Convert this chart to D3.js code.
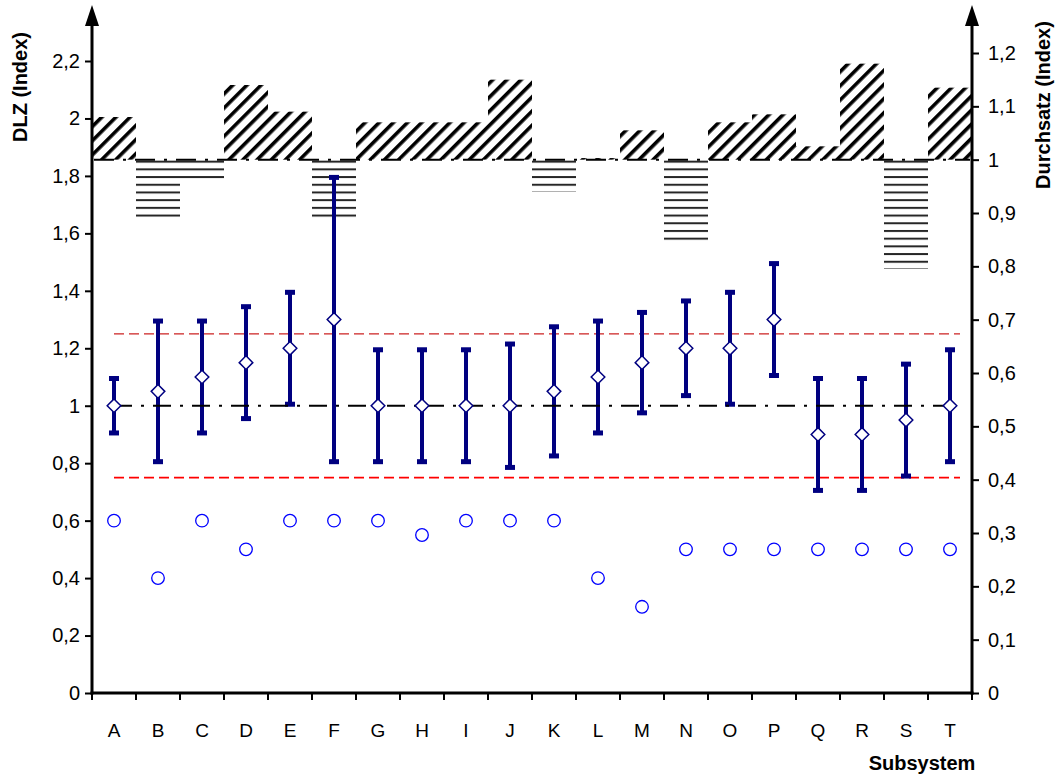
<!DOCTYPE html>
<html>
<head>
<meta charset="utf-8">
<script src="https://cdn.jsdelivr.net/npm/d3@7/dist/d3.min.js"></script>
<style>
  html, body { margin: 0; padding: 0; background: #fff; }
  svg { display: block; font-family: "Liberation Sans", Arial, sans-serif; }
</style>
</head>
<body>
<svg id="chart" width="1064" height="778"></svg>
<script>
// Subsystems along the x axis
const categories = ["A","B","C","D","E","F","G","H","I","J","K","L","M","N","O","P","Q","R","S","T"];

// DLZ index: mean and min/max range per subsystem (left axis)
const dlzMean = [1.0, 1.05, 1.1, 1.15, 1.2, 1.3, 1.0, 1.0, 1.0, 1.0, 1.05, 1.1, 1.15, 1.2, 1.2, 1.3, 0.9, 0.9, 0.95, 1.0];
const dlzMin  = [0.9, 0.8, 0.9, 0.95, 1.0, 0.8, 0.8, 0.8, 0.8, 0.78, 0.82, 0.9, 0.97, 1.03, 1.0, 1.1, 0.7, 0.7, 0.75, 0.8];
const dlzMax  = [1.1, 1.3, 1.3, 1.35, 1.4, 1.8, 1.2, 1.2, 1.2, 1.22, 1.28, 1.3, 1.33, 1.37, 1.4, 1.5, 1.1, 1.1, 1.15, 1.2];

// Second DLZ measurement (open circles, left axis)
const dlzPoints = [0.6, 0.4, 0.6, 0.5, 0.6, 0.6, 0.6, 0.55, 0.6, 0.6, 0.6, 0.4, 0.3, 0.5, 0.5, 0.5, 0.5, 0.5, 0.5, 0.5];

// Durchsatz index per subsystem (right axis, bars from 1)
const durchsatz = [1.08, 0.892, 0.962, 1.14, 1.09, 0.89, 1.07, 1.07, 1.07, 1.15, 0.94, 1.003, 1.055, 0.84, 1.07, 1.085, 1.025, 1.18, 0.795, 1.135];

// Reference levels
const dlzReference = 1.0;
const dlzUpperLimit = 1.25;
const dlzLowerLimit = 0.75;
const durchsatzBase = 1.0;

// Tick values
const leftTicks = [0, 0.2, 0.4, 0.6, 0.8, 1.0, 1.2, 1.4, 1.6, 1.8, 2.0, 2.2];
const rightTicks = [0, 0.1, 0.2, 0.3, 0.4, 0.5, 0.6, 0.7, 0.8, 0.9, 1.0, 1.1, 1.2];

const svg = d3.select("#chart");
const X0 = 92, X1 = 972, Y0 = 693;
const FONT = "'Liberation Sans', Arial, sans-serif";

const x = d3.scaleBand().domain(categories).range([X0, X1]).padding(0);
const yL = d3.scaleLinear().domain([0, 2.2]).range([Y0, 61]);
const yR = d3.scaleLinear().domain([0, 1.2]).range([Y0, 53]);
const fmt = v => d3.format("~g")(+v.toFixed(2)).replace(".", ",");
const cx = c => x(c) + x.bandwidth() / 2;

// Fill patterns
const defs = svg.append("defs");
const diag = defs.append("pattern")
  .attr("id", "diag").attr("patternUnits", "userSpaceOnUse")
  .attr("width", 10).attr("height", 10)
  .attr("patternTransform", "rotate(45)");
diag.append("rect").attr("width", 10).attr("height", 10).attr("fill", "#fff");
diag.append("rect").attr("x", 3).attr("y", 0).attr("width", 3.6).attr("height", 10).attr("fill", "#000");

const horiz = defs.append("pattern")
  .attr("id", "horiz").attr("patternUnits", "userSpaceOnUse")
  .attr("x", 0).attr("y", yR(durchsatzBase) + 1)
  .attr("width", 10).attr("height", 7.7);
horiz.append("rect").attr("width", 10).attr("height", 7.7).attr("fill", "#fff");
horiz.append("rect").attr("x", 0).attr("y", 0).attr("width", 10).attr("height", 2).attr("fill", "#262626");

// Durchsatz bars relative to 1
const idx = d3.range(categories.length);
svg.append("g").selectAll("rect").data(idx).join("rect")
  .attr("x", i => x(categories[i]))
  .attr("width", x.bandwidth())
  .attr("y", i => Math.min(yR(durchsatz[i]), yR(durchsatzBase)))
  .attr("height", i => Math.abs(yR(durchsatz[i]) - yR(durchsatzBase)))
  .attr("fill", i => durchsatz[i] >= durchsatzBase ? "url(#diag)" : "url(#horiz)");

// Baseline of the Durchsatz bars
svg.append("line")
  .attr("x1", X0 + 2).attr("x2", X1 - 2)
  .attr("y1", yR(durchsatzBase)).attr("y2", yR(durchsatzBase))
  .attr("stroke", "#000").attr("stroke-width", 2)
  .attr("stroke-dasharray", "20,9,3,9");

// Limit lines for DLZ
const xFirst = cx(categories[0]), xLast = cx(categories[categories.length - 1]);
svg.append("line")
  .attr("x1", xFirst).attr("x2", xLast + 10)
  .attr("y1", yL(dlzUpperLimit)).attr("y2", yL(dlzUpperLimit))
  .attr("stroke", "#cc2222").attr("stroke-width", 1.1)
  .attr("stroke-dasharray", "10,5");
svg.append("line")
  .attr("x1", xFirst).attr("x2", xLast + 10)
  .attr("y1", yL(dlzLowerLimit)).attr("y2", yL(dlzLowerLimit))
  .attr("stroke", "#ff0000").attr("stroke-width", 1.7)
  .attr("stroke-dasharray", "10,5");

// Error bars (min-max)
const eb = svg.append("g");
eb.selectAll("line").data(idx).join("line")
  .attr("x1", i => cx(categories[i])).attr("x2", i => cx(categories[i]))
  .attr("y1", i => yL(dlzMax[i])).attr("y2", i => yL(dlzMin[i]))
  .attr("stroke", "#000080").attr("stroke-width", 4);
eb.selectAll("rect.top").data(idx).join("rect").attr("class", "top")
  .attr("x", i => cx(categories[i]) - 5).attr("y", i => yL(dlzMax[i]) - 1)
  .attr("width", 10).attr("height", 5).attr("fill", "#000080");
eb.selectAll("rect.bot").data(idx).join("rect").attr("class", "bot")
  .attr("x", i => cx(categories[i]) - 5).attr("y", i => yL(dlzMin[i]) - 4)
  .attr("width", 10).attr("height", 5).attr("fill", "#000080");

// Reference line at DLZ = 1
svg.append("line")
  .attr("x1", xFirst).attr("x2", xLast + 10)
  .attr("y1", yL(dlzReference)).attr("y2", yL(dlzReference))
  .attr("stroke", "#000").attr("stroke-width", 2.2)
  .attr("stroke-dasharray", "18,9,3,9");

// Mean markers (diamonds)
const d = 6.8;
svg.append("g").selectAll("path").data(idx).join("path")
  .attr("transform", i => `translate(${cx(categories[i])},${yL(dlzMean[i])})`)
  .attr("d", `M0,${-d}L${d},0L0,${d}L${-d},0Z`)
  .attr("fill", "#fff").attr("stroke", "#000080").attr("stroke-width", 1.5);

// Open circles
svg.append("g").selectAll("circle").data(idx).join("circle")
  .attr("cx", i => cx(categories[i]))
  .attr("cy", i => yL(dlzPoints[i]))
  .attr("r", 6.3)
  .attr("fill", "#fff").attr("stroke", "#0000ff").attr("stroke-width", 1.3);

// Axes
const axisColor = "#000";
const leftAxis = svg.append("g").attr("transform", `translate(${X0},0)`)
  .call(d3.axisLeft(yL).tickValues(leftTicks).tickFormat(fmt).tickSizeInner(7).tickSizeOuter(0).tickPadding(5));
const rightAxis = svg.append("g").attr("transform", `translate(${X1},0)`)
  .call(d3.axisRight(yR).tickValues(rightTicks).tickFormat(fmt).tickSizeInner(7).tickSizeOuter(0).tickPadding(9));
[leftAxis, rightAxis].forEach(g => {
  g.select(".domain").remove();
  g.selectAll(".tick line").attr("stroke", axisColor).attr("stroke-width", 2);
  g.selectAll(".tick text").attr("font-size", 20).attr("fill", "#000")
    .attr("font-family", FONT);
});

// Bottom axis with ticks at category boundaries
const bottom = svg.append("g").attr("transform", `translate(0,${Y0})`);
bottom.append("line").attr("x1", X0 - 1.5).attr("x2", X1 + 1.5)
  .attr("stroke", axisColor).attr("stroke-width", 3);
const bounds = categories.map(c => x(c)).concat([X1]);
bottom.selectAll("line.tk").data(bounds).join("line").attr("class", "tk")
  .attr("x1", v => v).attr("x2", v => v).attr("y1", 0).attr("y2", 7)
  .attr("stroke", axisColor).attr("stroke-width", 2);
bottom.selectAll("text").data(categories).join("text")
  .attr("x", c => cx(c)).attr("y", 44)
  .attr("text-anchor", "middle").attr("font-size", 19).attr("fill", "#000")
  .text(c => c);

// Vertical axis lines with arrowheads
[X0, X1].forEach(ax => {
  svg.append("line").attr("x1", ax).attr("x2", ax).attr("y1", Y0 + 1.5).attr("y2", 22)
    .attr("stroke", axisColor).attr("stroke-width", 3);
  svg.append("path").attr("d", `M${ax},5L${ax + 7},26L${ax - 7},26Z`).attr("fill", axisColor);
});

// Axis titles
svg.append("text")
  .attr("transform", `translate(27,87) rotate(-90)`)
  .attr("text-anchor", "middle").attr("font-size", 20).attr("font-weight", "bold")
  .text("DLZ (Index)");
svg.append("text")
  .attr("transform", `translate(1050,105) rotate(-90)`)
  .attr("text-anchor", "middle").attr("font-size", 20).attr("font-weight", "bold")
  .text("Durchsatz (Index)");
svg.append("text")
  .attr("x", 922).attr("y", 770)
  .attr("text-anchor", "middle").attr("font-size", 20).attr("font-weight", "bold")
  .text("Subsystem");
</script>
</body>
</html>
